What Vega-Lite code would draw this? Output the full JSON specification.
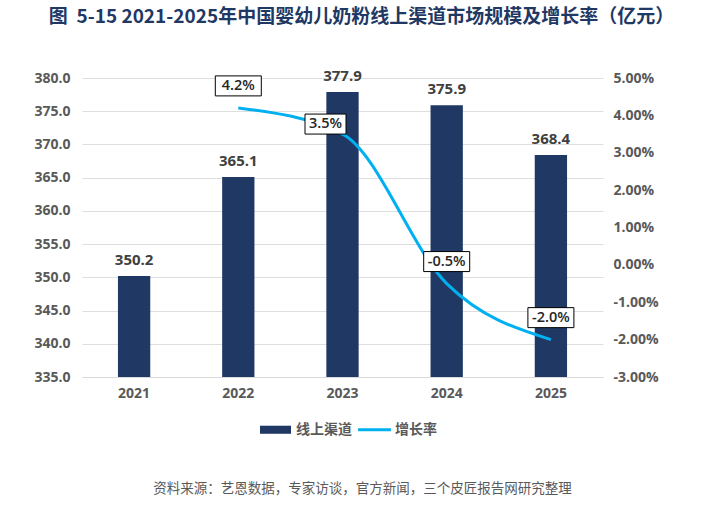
{
  "$schema": "https://vega.github.io/schema/vega-lite/v6.json",
  "width": 521,
  "height": 299,
  "autosize": {"type": "none"},
  "padding": {"left": 82, "top": 78, "right": 107, "bottom": 140},
  "background": "white",
  "title": {
    "text": "图\u00a0\u00a05-15 2021-2025年中国婴幼儿奶粉线上渠道市场规模及增长率（亿元）",
    "font": "Noto Sans CJK SC",
    "fontSize": 19,
    "fontWeight": "bold",
    "color": "#1f3864",
    "anchor": "middle",
    "frame": "group",
    "dx": 19,
    "offset": 42
  },
  "data": {
    "values": [
      {"year": "2021", "value": 350.2, "rate": null},
      {"year": "2022", "value": 365.1, "rate": 0.042},
      {"year": "2023", "value": 377.9, "rate": 0.035},
      {"year": "2024", "value": 375.9, "rate": -0.005},
      {"year": "2025", "value": 368.4, "rate": -0.02}
    ]
  },
  "encoding": {
    "x": {
      "field": "year",
      "type": "ordinal",
      "scale": {"paddingInner": 0.69, "paddingOuter": 0.345},
      "axis": {
        "title": "资料来源：艺恩数据，专家访谈，官方新闻，三个皮匠报告网研究整理",
        "titleFont": "Noto Sans CJK SC",
        "titleFontSize": 13.5,
        "titleFontWeight": "normal",
        "titleColor": "#595959",
        "titleX": 280,
        "titleY": 104,
        "titleAlign": "center",
        "labelAngle": 0,
        "labelFont": "Open Sans",
        "labelFontSize": 14,
        "labelFontWeight": "bold",
        "labelColor": "#595959",
        "labelPadding": 9,
        "ticks": false,
        "domain": true,
        "domainColor": "#d9d9d9"
      }
    }
  },
  "layer": [
    {
      "encoding": {
        "y": {
          "field": "value",
          "type": "quantitative",
          "scale": {"domain": [335, 380], "zero": false, "nice": false},
          "axis": {
            "title": null,
            "values": [335, 340, 345, 350, 355, 360, 365, 370, 375, 380],
            "format": ".1f",
            "labelFont": "Open Sans",
            "labelFontSize": 14,
            "labelFontWeight": "bold",
            "labelColor": "#595959",
            "labelPadding": 12,
            "ticks": false,
            "domain": false,
            "grid": true,
            "gridColor": "#dedede",
            "gridWidth": 1
          }
        }
      },
      "layer": [
        {
          "mark": {"type": "bar", "clip": true},
          "encoding": {
            "color": {
              "datum": "线上渠道",
              "scale": {"domain": ["线上渠道", "增长率"], "range": ["#1f3864", "#00b0f0"]},
              "legend": {
                "orient": "none",
                "legendX": 178,
                "legendY": 336,
                "direction": "horizontal",
                "title": null,
                "labelFont": "Noto Sans CJK SC",
                "labelFontSize": 14,
                "labelFontWeight": "bold",
                "labelColor": "#595959",
                "labelOffset": 5,
                "columnPadding": 6,
                "symbolSize": 961,
                "encode": {
                  "symbols": {
                    "update": {
                      "shape": {"signal": "datum.value === '线上渠道' ? 'M-1,-0.26H1V0.26H-1Z' : 'M-1.06,-0.1H1.06V0.1H-1.06Z'"},
                      "fill": {"signal": "datum.value === '线上渠道' ? '#1f3864' : '#00b0f0'"},
                      "stroke": {"value": "transparent"},
                      "strokeWidth": {"value": 0},
                      "opacity": {"value": 1}
                    }
                  }
                }
              }
            }
          }
        },
        {
          "mark": {
            "type": "text",
            "baseline": "bottom",
            "dy": -8,
            "font": "Open Sans",
            "fontSize": 15,
            "fontWeight": "bold",
            "color": "#404040"
          },
          "encoding": {
            "text": {"field": "value", "type": "quantitative", "format": ".1f"}
          }
        }
      ]
    },
    {
      "transform": [{"filter": "isValid(datum.rate)"}],
      "encoding": {
        "y": {
          "field": "rate",
          "type": "quantitative",
          "scale": {"domain": [-0.03, 0.05], "nice": false},
          "axis": {
            "orient": "right",
            "title": null,
            "values": [-0.03, -0.02, -0.01, 0, 0.01, 0.02, 0.03, 0.04, 0.05],
            "format": ".2%",
            "labelFont": "Open Sans",
            "labelFontSize": 14,
            "labelFontWeight": "bold",
            "labelColor": "#595959",
            "labelPadding": 10,
            "ticks": false,
            "domain": false,
            "grid": false
          }
        }
      },
      "layer": [
        {
          "mark": {"type": "line", "interpolate": "monotone", "strokeWidth": 3},
          "encoding": {"color": {"datum": "增长率"}}
        },
        {
          "transform": [{"filter": "datum.year !== '2023'"}],
          "mark": {
            "type": "point",
            "shape": "M-4.6,-2H4.6V2H-4.6Z",
            "size": 100,
            "filled": true,
            "fill": "white",
            "stroke": "#000000",
            "strokeWidth": 1,
            "opacity": 1,
            "yOffset": -22
          }
        },
        {
          "transform": [{"filter": "datum.year !== '2023'"}],
          "mark": {
            "type": "text",
            "font": "Open Sans",
            "fontSize": 14.5,
            "fontWeight": 600,
            "color": "#262626",
            "baseline": "middle",
            "yOffset": -22
          },
          "encoding": {"text": {"field": "rate", "type": "quantitative", "format": ".1%"}}
        },
        {
          "transform": [{"filter": "datum.year === '2023'"}],
          "mark": {
            "type": "point",
            "shape": "M-4.1,-2H4.1V2H-4.1Z",
            "size": 100,
            "filled": true,
            "fill": "white",
            "stroke": "#000000",
            "strokeWidth": 1,
            "opacity": 1,
            "xOffset": -17,
            "yOffset": -10
          }
        },
        {
          "transform": [{"filter": "datum.year === '2023'"}],
          "mark": {
            "type": "text",
            "font": "Open Sans",
            "fontSize": 14.5,
            "fontWeight": 600,
            "color": "#262626",
            "baseline": "middle",
            "xOffset": -17,
            "yOffset": -10
          },
          "encoding": {"text": {"field": "rate", "type": "quantitative", "format": ".1%"}}
        }
      ]
    }
  ],
  "resolve": {"scale": {"y": "independent"}},
  "config": {
    "view": {"stroke": null},
    "locale": {
      "number": {"decimal": ".", "thousands": ",", "grouping": [3], "currency": ["$", ""], "minus": "-"}
    }
  }
}
